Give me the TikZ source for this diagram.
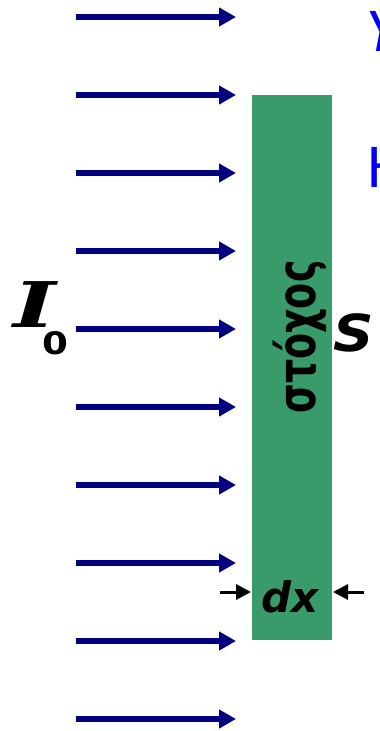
\documentclass[tikz,border=0pt]{standalone}
\usepackage{fontspec}
\setmainfont{DejaVu Sans}
\newfontfamily\slabfont{DejaVu Serif}
\usetikzlibrary{arrows.meta}
\definecolor{beamnavy}{RGB}{0,0,128}
\definecolor{targetgreen}{RGB}{58,155,106}
\definecolor{penblue}{RGB}{0,0,255}
\begin{document}
\begin{tikzpicture}[x=1pt,y=-1pt,
  beam/.style={line width=6pt, beamnavy, -{Triangle[length=17pt,width=18pt]}},
  thick arrow/.style={line width=3pt, black, -{Triangle[length=15pt,width=15pt]}},
  lbl/.style={inner sep=0pt, black},
  pen/.style={inner sep=0pt, penblue, font=\fontsize{55}{55}\selectfont}]
\useasboundingbox (0,0) rectangle (380,731);
\clip (0,0) rectangle (380,731);
\node[fill=targetgreen, minimum width=80pt, minimum height=545pt, inner sep=0pt, anchor=north west] (target) at (252,95) {};
\foreach \i in {0,...,9} {
  \coordinate (b\i s) at (76,17+78*\i);
  \coordinate (b\i e) at (236,17+78*\i);
  \draw[beam] (b\i s) -- (b\i e);
}
\node[lbl] (I) at (35,305) {\scalebox{1.45}[1]{\fontsize{63}{63}\selectfont\slabfont\bfseries\itshape I}};
\node[lbl] (zero) at (55,343) {\scalebox{1.2}[1]{\fontsize{31}{31}\selectfont\bfseries 0}};
\node[lbl] (S) at (354,333) {\scalebox{1.1}[1]{\fontsize{51}{51}\selectfont\bfseries\itshape S}};
\node[lbl] (word) at (300,337) {\rotatebox{90}{\scalebox{1}[1.4]{\fontsize{38}{38}\selectfont\bfseries στόχος}}};
\node[lbl] (dx) at (290,597) {\fontsize{42}{42}\selectfont\bfseries\itshape dx};
\coordinate (la) at (220,592);
\coordinate (lb) at (251,592);
\coordinate (ra) at (364,592);
\coordinate (rb) at (333,592);
\draw[thick arrow] (la) -- (lb);
\draw[thick arrow] (ra) -- (rb);
\node[pen, anchor=base west] (Y) at (366,51) {\itshape Y};
\node[pen, anchor=base west] (H) at (366.6,187) {H};
\end{tikzpicture}
\end{document}
